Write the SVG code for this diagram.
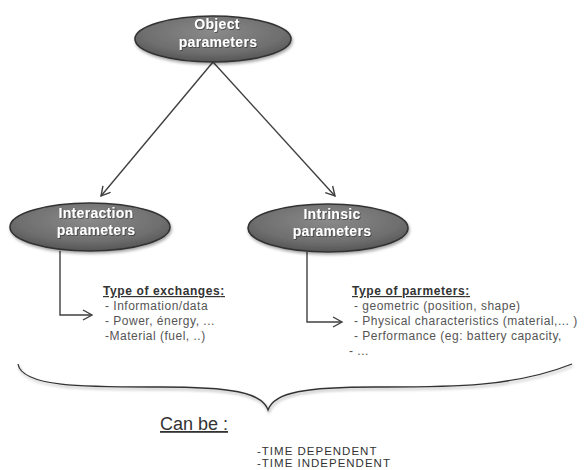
<svg xmlns="http://www.w3.org/2000/svg" width="588" height="470" viewBox="0 0 588 470">
<defs>
<radialGradient id="g" cx="50%" cy="35%" r="65%">
<stop offset="0" stop-color="#8a8a8a"/>
<stop offset="0.7" stop-color="#6e6e6e"/>
<stop offset="1" stop-color="#555"/>
</radialGradient>
<filter id="sh" x="-20%" y="-30%" width="140%" height="160%">
<feDropShadow dx="1" dy="2" stdDeviation="1.5" flood-color="#000" flood-opacity="0.35"/>
</filter>
<filter id="ts" x="-10%" y="-30%" width="120%" height="160%">
<feDropShadow dx="0.8" dy="0.8" stdDeviation="0.6" flood-color="#000" flood-opacity="0.5"/>
</filter>
<marker id="ah" markerWidth="12" markerHeight="12" refX="10" refY="6" orient="auto" markerUnits="userSpaceOnUse">
<path d="M1,1 L10,6 L1,11" fill="none" stroke="#404040" stroke-width="1.4"/>
</marker>
</defs>
<style>
.node ellipse{fill:url(#g);stroke:#333;stroke-width:1.6;filter:url(#sh)}
.nt{font-family:"Liberation Sans",Arial,sans-serif;font-weight:bold;font-size:14px;letter-spacing:0.3px;fill:#fff;text-anchor:middle;filter:url(#ts)}
.con{fill:none;stroke:#404040;stroke-width:1.4}
.tx{font-family:"Liberation Sans",Arial,sans-serif;font-size:12px;letter-spacing:0.5px;fill:#555}
.hd{font-family:"Liberation Sans",Arial,sans-serif;font-size:12px;letter-spacing:0.6px;fill:#333;font-weight:bold;text-decoration:underline}
</style>
<rect width="588" height="470" fill="#fff"/>
<g id="connectors">
<line class="con" x1="213" y1="62" x2="101" y2="196" marker-end="url(#ah)"/>
<line class="con" x1="213" y1="62" x2="335" y2="196" marker-end="url(#ah)"/>
<polyline class="con" points="60,251 60,315 92,315" marker-end="url(#ah)"/>
<polyline class="con" points="307,252 307,322 342,322" marker-end="url(#ah)"/>
</g>
<g id="object" class="node">
<ellipse cx="213" cy="39" rx="78" ry="23"/>
<text class="nt" x="217" y="29">Object</text>
<text class="nt" x="218" y="47">parameters</text>
</g>
<g id="interaction" class="node">
<ellipse cx="90" cy="227" rx="80" ry="24"/>
<text class="nt" x="96" y="218">Interaction</text>
<text class="nt" x="96" y="235">parameters</text>
</g>
<g id="intrinsic" class="node">
<ellipse cx="328" cy="228" rx="80" ry="24"/>
<text class="nt" x="332" y="219">Intrinsic</text>
<text class="nt" x="332" y="236">parameters</text>
</g>
<g id="exchanges">
<text class="hd" x="103" y="295">Type of exchanges<tspan style="text-decoration:none">:</tspan></text>
<text class="tx" x="105" y="310">- Information/data</text>
<text class="tx" x="105" y="325">- Power, énergy, ...</text>
<text class="tx" x="105" y="340">-Material (fuel, ..)</text>
</g>
<g id="parmeters">
<text class="hd" x="352" y="295">Type of parmeters<tspan style="text-decoration:none">:</tspan></text>
<text class="tx" x="354" y="310">- geometric (position, shape)</text>
<text class="tx" x="354" y="325">- Physical characteristics (material,... )</text>
<text class="tx" x="354" y="340">- Performance (eg: battery capacity,</text>
<text class="tx" x="349" y="355">- ...</text>
</g>
<g id="brace">
<path d="M18,364 C22,388 90,387 160,387 C230,387 262,392 268,410 C274,392 306,387 376,387 C446,387 512,388 572,364" fill="none" stroke="#333" stroke-width="1.3" filter="url(#sh)"/>
</g>
<g id="canbe">
<text x="160" y="430" font-family="'Liberation Sans',Arial,sans-serif" font-size="18" fill="#333" text-decoration="underline">Can be :</text>
<text x="257" y="455" font-family="'Liberation Sans',Arial,sans-serif" font-size="11.5" letter-spacing="1" fill="#333">-TIME DEPENDENT</text>
<text x="257" y="467" font-family="'Liberation Sans',Arial,sans-serif" font-size="11.5" letter-spacing="1" fill="#333">-TIME INDEPENDENT</text>
</g>
</svg>
